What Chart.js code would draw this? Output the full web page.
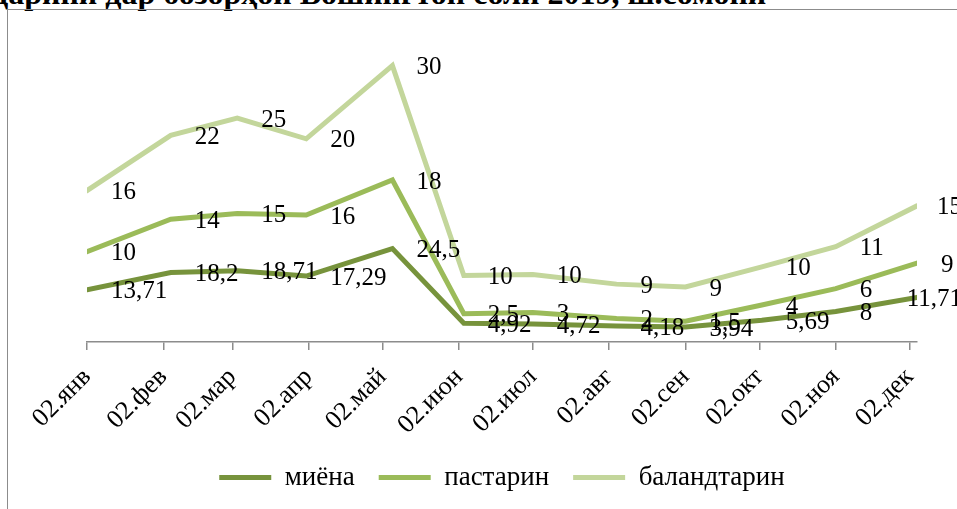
<!DOCTYPE html>
<html>
<head>
<meta charset="utf-8">
<script src="https://cdn.jsdelivr.net/npm/chart.js@4.4.1/dist/chart.umd.min.js"></script>
<style>
  html, body { margin: 0; padding: 0; background: #fff; overflow: hidden; }
  #page { position: relative; width: 957px; height: 509px; overflow: hidden; }
  #title {
    position: absolute; left: -8px; top: -23px; white-space: nowrap;
    font: bold 32px/32px "Liberation Serif", "Times New Roman", serif; color: #000;
  }
  #frame {
    position: absolute; left: 7px; top: 9px; width: 1000px; height: 600px;
    border: 1px solid #8c8c8c;
  }
  #wrap { position: absolute; left: 0; top: 0; width: 957px; height: 509px; }
</style>
</head>
<body>
<div id="page">
  <div id="title">дарини дар бозорҳои Вошингтон соли 2019, ш.сомонӣ</div>
  <div id="frame"></div>
  <div id="wrap"><canvas id="chart"></canvas></div>
</div>
<script>
// days of year 2019 on which the values were taken
var pointDays = [2, 36, 63, 91, 126, 155, 183, 217, 245, 276, 306, 339];

var midValues = [13.71, 18.2, 18.71, 17.29, 24.5, 4.92, 4.72, 4.18, 3.94, 5.69, 8, 11.71];
var lowValues = [10, 14, 15, 16, 18, 2.5, 3, 2, 1.5, 4, 6, 9];
var highValues = [16, 22, 25, 20, 30, 10, 10, 9, 9, 10, 11, 15];

var seriesNames = ['миёна', 'пастарин', 'баландтарин'];
var seriesColors = ['#77933c', '#9bbb59', '#c3d69b'];

// axis ticks: 2nd day of each month
var tickDays = [2, 33, 61, 92, 122, 153, 183, 214, 245, 275, 306, 336];
var tickLabels = ['02.янв', '02.фев', '02.мар', '02.апр', '02.май', '02.июн',
                  '02.июл', '02.авг', '02.сен', '02.окт', '02.ноя', '02.дек'];

var serif = '"Liberation Serif", "Times New Roman", serif';

function toPoints(values) {
    return values.map(function (v, i) { return { x: pointDays[i], y: v }; });
}

var allValues = [midValues, lowValues, highValues];

var datasets = allValues.map(function (vals, i) {
    return {
        label: seriesNames[i],
        data: toPoints(vals),
        borderColor: seriesColors[i],
        backgroundColor: seriesColors[i],
        borderWidth: 5,
        pointRadius: 0,
        pointHoverRadius: 0,
        tension: 0,
        fill: false,
        borderCapStyle: 'round'
    };
});

// value labels to the right of each point
var valueLabels = {
    id: 'valueLabels',
    afterDatasetsDraw: function (chart) {
        var ctx = chart.ctx;
        ctx.save();
        ctx.font = '25px ' + serif;
        ctx.fillStyle = '#000';
        ctx.textBaseline = 'middle';
        ctx.textAlign = 'left';
        chart.data.datasets.forEach(function (ds, i) {
            var meta = chart.getDatasetMeta(i);
            meta.data.forEach(function (pt, j) {
                var txt = String(allValues[i][j]).replace('.', ',');
                var w = ctx.measureText(txt).width;
                var x = pt.x + 24;
                if (x + w > chart.width + 5) {
                    x = chart.width + 5 - w;
                }
                ctx.fillText(txt, x, pt.y + 2);
            });
        });
        ctx.restore();
    }
};

var ctx = document.getElementById('chart').getContext('2d');
var chart = new Chart(ctx, {
    type: 'line',
    data: { datasets: datasets },
    plugins: [valueLabels],
    options: {
        responsive: true,
        maintainAspectRatio: false,
        animation: false,
        layout: {
            padding: { left: 87, right: 40, top: 37, bottom: 8 }
        },
        plugins: {
            tooltip: { enabled: false },
            legend: {
                position: 'bottom',
                labels: {
                    usePointStyle: true,
                    pointStyle: 'line',
                    pointStyleWidth: 52,
                    boxHeight: 5,
                    padding: 24,
                    color: '#000',
                    font: { family: serif, size: 27 }
                }
            }
        },
        scales: {
            x: {
                type: 'linear',
                min: 2,
                max: 339,
                afterBuildTicks: function (scale) {
                    scale.ticks = tickDays.map(function (d) { return { value: d }; });
                },
                afterFit: function (scale) {
                    scale.height = 98;
                },
                ticks: {
                    autoSkip: false,
                    minRotation: 45,
                    maxRotation: 45,
                    color: '#000',
                    padding: 12,
                    font: { family: serif, size: 26 },
                    callback: function (value, index) { return tickLabels[index]; }
                },
                grid: {
                    drawOnChartArea: false,
                    drawTicks: true,
                    tickLength: 8,
                    color: '#8c8c8c',
                    lineWidth: 1.5
                },
                border: { display: true, color: '#8c8c8c', width: 1.5 }
            },
            y: {
                display: false,
                stacked: true,
                min: 0,
                max: 80
            }
        }
    }
});
</script>
</body>
</html>
